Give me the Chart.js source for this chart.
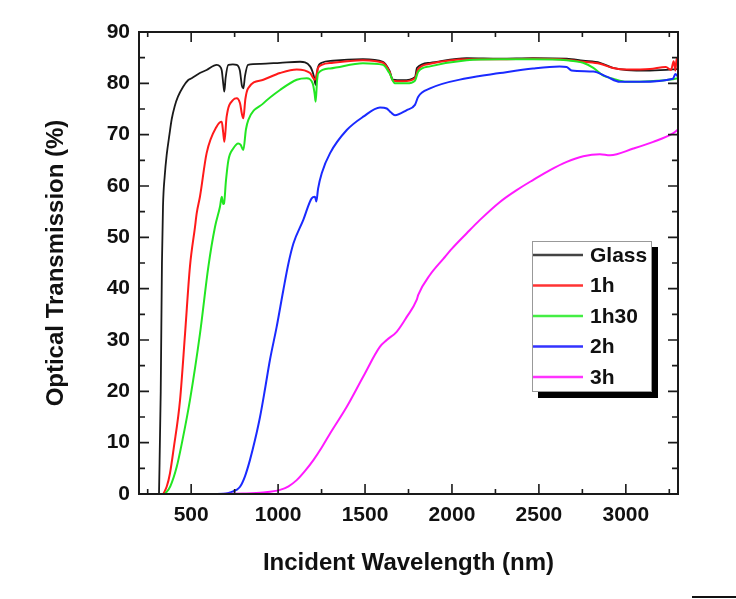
<!DOCTYPE html>
<html>
<head>
<meta charset="utf-8">
<script src="https://cdn.jsdelivr.net/npm/chart.js@4.4.1/dist/chart.umd.min.js"></script>
<style>
  html, body { margin: 0; padding: 0; background: #fff; }
  #wrap { position: relative; width: 736px; height: 599px; }
  #corner { position: absolute; left: 692px; top: 596px; width: 44px; height: 2px; background: #111; }
</style>
</head>
<body>
<div id="wrap">
  <canvas id="chart" width="736" height="599"></canvas>
  <div id="corner"></div>
</div>
<script>
// eixos
const X_MAJOR = [500, 1000, 1500, 2000, 2500, 3000];
const X_MINOR = [250, 750, 1250, 1750, 2250, 2750, 3250];
const Y_MAJOR = [0, 10, 20, 30, 40, 50, 60, 70, 80, 90];
const Y_MINOR = [5, 15, 25, 35, 45, 55, 65, 75, 85];

// séries (comprimento de onda em nm, transmissão em %)
const WL_GLASS = [315, 325, 332, 338, 348, 359, 375, 388, 405, 424, 453, 482, 503, 550, 589, 647, 665, 676, 686, 691, 698, 714, 740, 762, 780, 792, 800, 810, 827, 900, 1011, 1126, 1184, 1205, 1216, 1228, 1251, 1316, 1488, 1603, 1640, 1661, 1718, 1787, 1799, 1874, 2085, 2276, 2466, 2660, 2754, 2851, 2926, 3005, 3139, 3271, 3300];
const T_GLASS  = [0, 20, 45, 56, 62, 66, 70, 73, 75.5, 77.4, 79.3, 80.6, 81, 82, 82.6, 83.6, 83.3, 82.5, 79.5, 78.4, 81, 83.6, 83.7, 83.6, 82.5, 79.5, 79, 81.5, 83.6, 83.8, 84, 84.2, 83.3, 81.5, 79.7, 83, 84, 84.4, 84.7, 84.2, 82.5, 80.7, 80.6, 81.2, 83, 84, 84.9, 84.8, 84.9, 84.8, 84.4, 84, 83, 82.6, 82.5, 82.7, 82.8];

const WL_1H = [340, 360, 378, 400, 436, 465, 493, 522, 532, 551, 589, 647, 676, 684, 691, 704, 742, 762, 781, 792, 800, 812, 827, 915, 1011, 1107, 1184, 1212, 1230, 1251, 1316, 1488, 1603, 1640, 1661, 1718, 1787, 1806, 1874, 2085, 2276, 2466, 2660, 2754, 2851, 2926, 3005, 3139, 3230, 3260, 3275, 3285, 3292, 3300];
const T_1H  = [0, 1.5, 4, 9, 18.3, 31.3, 44.3, 52, 54.7, 58, 66.4, 71.6, 72.5, 70.5, 68.6, 73.5, 76.8, 77.1, 76.1, 74, 73.2, 77, 79, 80.7, 82, 82.7, 82, 80.7, 83, 83.6, 84, 84.5, 84, 82.3, 80.5, 80.4, 81, 82.8, 83.8, 84.7, 84.7, 84.8, 84.6, 84.2, 83.8, 83, 82.7, 82.8, 83.2, 82.6, 84.3, 82.5, 84.8, 83.5];

const WL_1H30 = [350, 380, 417, 450, 493, 551, 599, 637, 666, 676, 684, 689, 700, 714, 742, 771, 785, 800, 815, 829, 915, 1011, 1107, 1165, 1199, 1210, 1216, 1224, 1231, 1299, 1488, 1603, 1640, 1672, 1740, 1787, 1806, 1874, 2085, 2276, 2466, 2660, 2754, 2813, 2870, 2926, 3005, 3139, 3271, 3300];
const T_1H30  = [0, 1.5, 5.3, 10.5, 18.3, 31.3, 44.3, 52, 56, 57.9, 56.5, 56.6, 61, 65, 67.3, 68.3, 68, 67, 71, 72.9, 76.1, 78.7, 80.7, 81, 80, 78, 76.4, 80.5, 82, 82.9, 83.9, 83.6, 82, 80, 80, 80.5, 82.3, 83.3, 84.5, 84.7, 84.7, 84.5, 84, 83, 81.5, 80.9, 80.3, 80.4, 80.8, 81];

const WL_2H = [600, 700, 723, 760, 781, 810, 838, 867, 896, 925, 953, 992, 1030, 1060, 1088, 1145, 1193, 1212, 1220, 1230, 1251, 1299, 1395, 1490, 1586, 1625, 1650, 1672, 1740, 1787, 1806, 1874, 2085, 2276, 2466, 2619, 2660, 2688, 2813, 2890, 2966, 3081, 3271, 3285, 3300];
const T_2H  = [0, 0.1, 0.3, 0.8, 1.4, 3.5, 6.6, 10.5, 15, 20.5, 26.1, 32.6, 39.7, 45, 48.8, 53.4, 57.6, 57.9, 57, 59.5, 62.5, 66.4, 70.9, 73.5, 75.3, 75.1, 74.3, 73.8, 74.8, 75.8, 77.4, 79, 81, 82, 82.9, 83.3, 83.2, 82.5, 82.3, 81.3, 80.3, 80.3, 80.9, 81.8, 81.3];

const WL_3H = [600, 800, 915, 1011, 1060, 1107, 1155, 1203, 1250, 1299, 1395, 1490, 1586, 1625, 1682, 1740, 1797, 1806, 1874, 1950, 2000, 2085, 2161, 2276, 2372, 2468, 2564, 2660, 2755, 2851, 2909, 3043, 3158, 3273, 3300];
const T_3H  = [0, 0.1, 0.3, 0.8, 1.5, 2.7, 4.5, 6.6, 9, 11.8, 17, 22.9, 28.7, 30, 31.6, 34.5, 37.8, 38.8, 42.7, 45.8, 47.8, 50.8, 53.4, 56.9, 59.2, 61.2, 63.1, 64.7, 65.8, 66.2, 66, 67.3, 68.6, 70.3, 71];

const SERIES = ['Glass', '1h', '1h30', '2h', '3h'];
const CORES  = ['#1a1a1a', '#ff1a1a', '#22e622', '#1a2aff', '#ff1aff'];
const LEG_CORES = ['#444444', '#ff3333', '#44ee44', '#3333ff', '#ff33ff'];

function pares(xs, ys) {
  return xs.map((x, i) => ({ x: x, y: ys[i] }));
}

const fonte = 'Arial, "Liberation Sans", sans-serif';

// moldura com ticks para dentro nos quatro lados
const molduraPlugin = {
  id: 'moldura',
  afterDatasetsDraw(chart) {
    const { ctx, chartArea: a, scales } = chart;
    const xs = scales.x, ys = scales.y;
    ctx.save();
    ctx.strokeStyle = '#1a1a1a';
    ctx.lineWidth = 2;
    ctx.strokeRect(a.left, a.top, a.right - a.left, a.bottom - a.top);
    ctx.lineWidth = 1.6;
    ctx.beginPath();
    const tick = (vals, len) => {
      vals.forEach(v => {
        const px = xs.getPixelForValue(v);
        ctx.moveTo(px, a.bottom); ctx.lineTo(px, a.bottom - len);
        ctx.moveTo(px, a.top);    ctx.lineTo(px, a.top + len);
      });
    };
    tick(X_MAJOR, 10);
    tick(X_MINOR, 5);
    const tickY = (vals, len) => {
      vals.forEach(v => {
        const py = ys.getPixelForValue(v);
        ctx.moveTo(a.left, py);  ctx.lineTo(a.left + len, py);
        ctx.moveTo(a.right, py); ctx.lineTo(a.right - len, py);
      });
    };
    tickY(Y_MAJOR, 10);
    tickY(Y_MINOR, 6);
    ctx.stroke();
    ctx.restore();
  }
};

// legenda em caixa com sombra, na ordem de SERIES
const legendaPlugin = {
  id: 'legendaCaixa',
  afterDraw(chart) {
    const ctx = chart.ctx;
    const bx = 532, by = 241, bw = 120, bh = 151;
    ctx.save();
    ctx.fillStyle = '#000';
    ctx.fillRect(bx + 6, by + 6, bw, bh);
    ctx.fillStyle = '#fff';
    ctx.fillRect(bx, by, bw, bh);
    ctx.strokeStyle = '#999';
    ctx.lineWidth = 1;
    ctx.strokeRect(bx + 0.5, by + 0.5, bw - 1, bh - 1);
    ctx.font = 'bold 21px ' + fonte;
    ctx.textBaseline = 'middle';
    ctx.textAlign = 'left';
    SERIES.forEach((nome, i) => {
      const y = 255 + i * 30.5;
      ctx.strokeStyle = LEG_CORES[i];
      ctx.lineWidth = 2.5;
      ctx.beginPath();
      ctx.moveTo(bx + 1, y);
      ctx.lineTo(583, y);
      ctx.stroke();
      ctx.fillStyle = '#111';
      ctx.fillText(nome, 590, y + 1);
    });
    ctx.restore();
  }
};

const dados = [
  pares(WL_GLASS, T_GLASS),
  pares(WL_1H, T_1H),
  pares(WL_1H30, T_1H30),
  pares(WL_2H, T_2H),
  pares(WL_3H, T_3H)
];

new Chart(document.getElementById('chart'), {
  type: 'line',
  data: {
    // desenhadas de trás para frente: vermelho fica por cima do preto
    datasets: SERIES.map((nome, i) => ({
      label: nome,
      data: dados[i],
      borderColor: CORES[i],
      backgroundColor: CORES[i],
      borderWidth: i === 0 ? 1.8 : 2,
      pointRadius: 0,
      fill: false,
      cubicInterpolationMode: 'monotone'
    })).reverse()
  },
  options: {
    responsive: false,
    animation: false,
    layout: { padding: { top: 32, right: 58, left: 0, bottom: 0 } },
    plugins: { legend: { display: false }, tooltip: { enabled: false } },
    scales: {
      x: {
        type: 'linear',
        min: 200,
        max: 3300,
        afterBuildTicks: s => { s.ticks = X_MAJOR.map(v => ({ value: v })); },
        afterFit: s => { s.height = 105; },
        grid: { display: false, drawTicks: false },
        border: { display: false },
        ticks: { padding: 9, color: '#111', maxRotation: 0, callback: v => String(v),
                 font: { family: fonte, size: 21, weight: 'bold' } },
        title: { display: true, text: 'Incident Wavelength (nm)', color: '#111', padding: { bottom: 21, top: 0 },
                 font: { family: fonte, size: 24, weight: 'bold' } }
      },
      y: {
        min: 0,
        max: 90,
        afterBuildTicks: s => { s.ticks = Y_MAJOR.map(v => ({ value: v })); },
        afterFit: s => { s.width = 139; },
        grid: { display: false, drawTicks: false },
        border: { display: false },
        ticks: { padding: 9, color: '#111', callback: v => String(v),
                 font: { family: fonte, size: 21, weight: 'bold' } },
        title: { display: true, text: 'Optical Transmission (%)', color: '#111', padding: { top: 42, bottom: 0 },
                 font: { family: fonte, size: 24, weight: 'bold' } }
      }
    }
  },
  plugins: [molduraPlugin, legendaPlugin]
});
</script>
</body>
</html>
